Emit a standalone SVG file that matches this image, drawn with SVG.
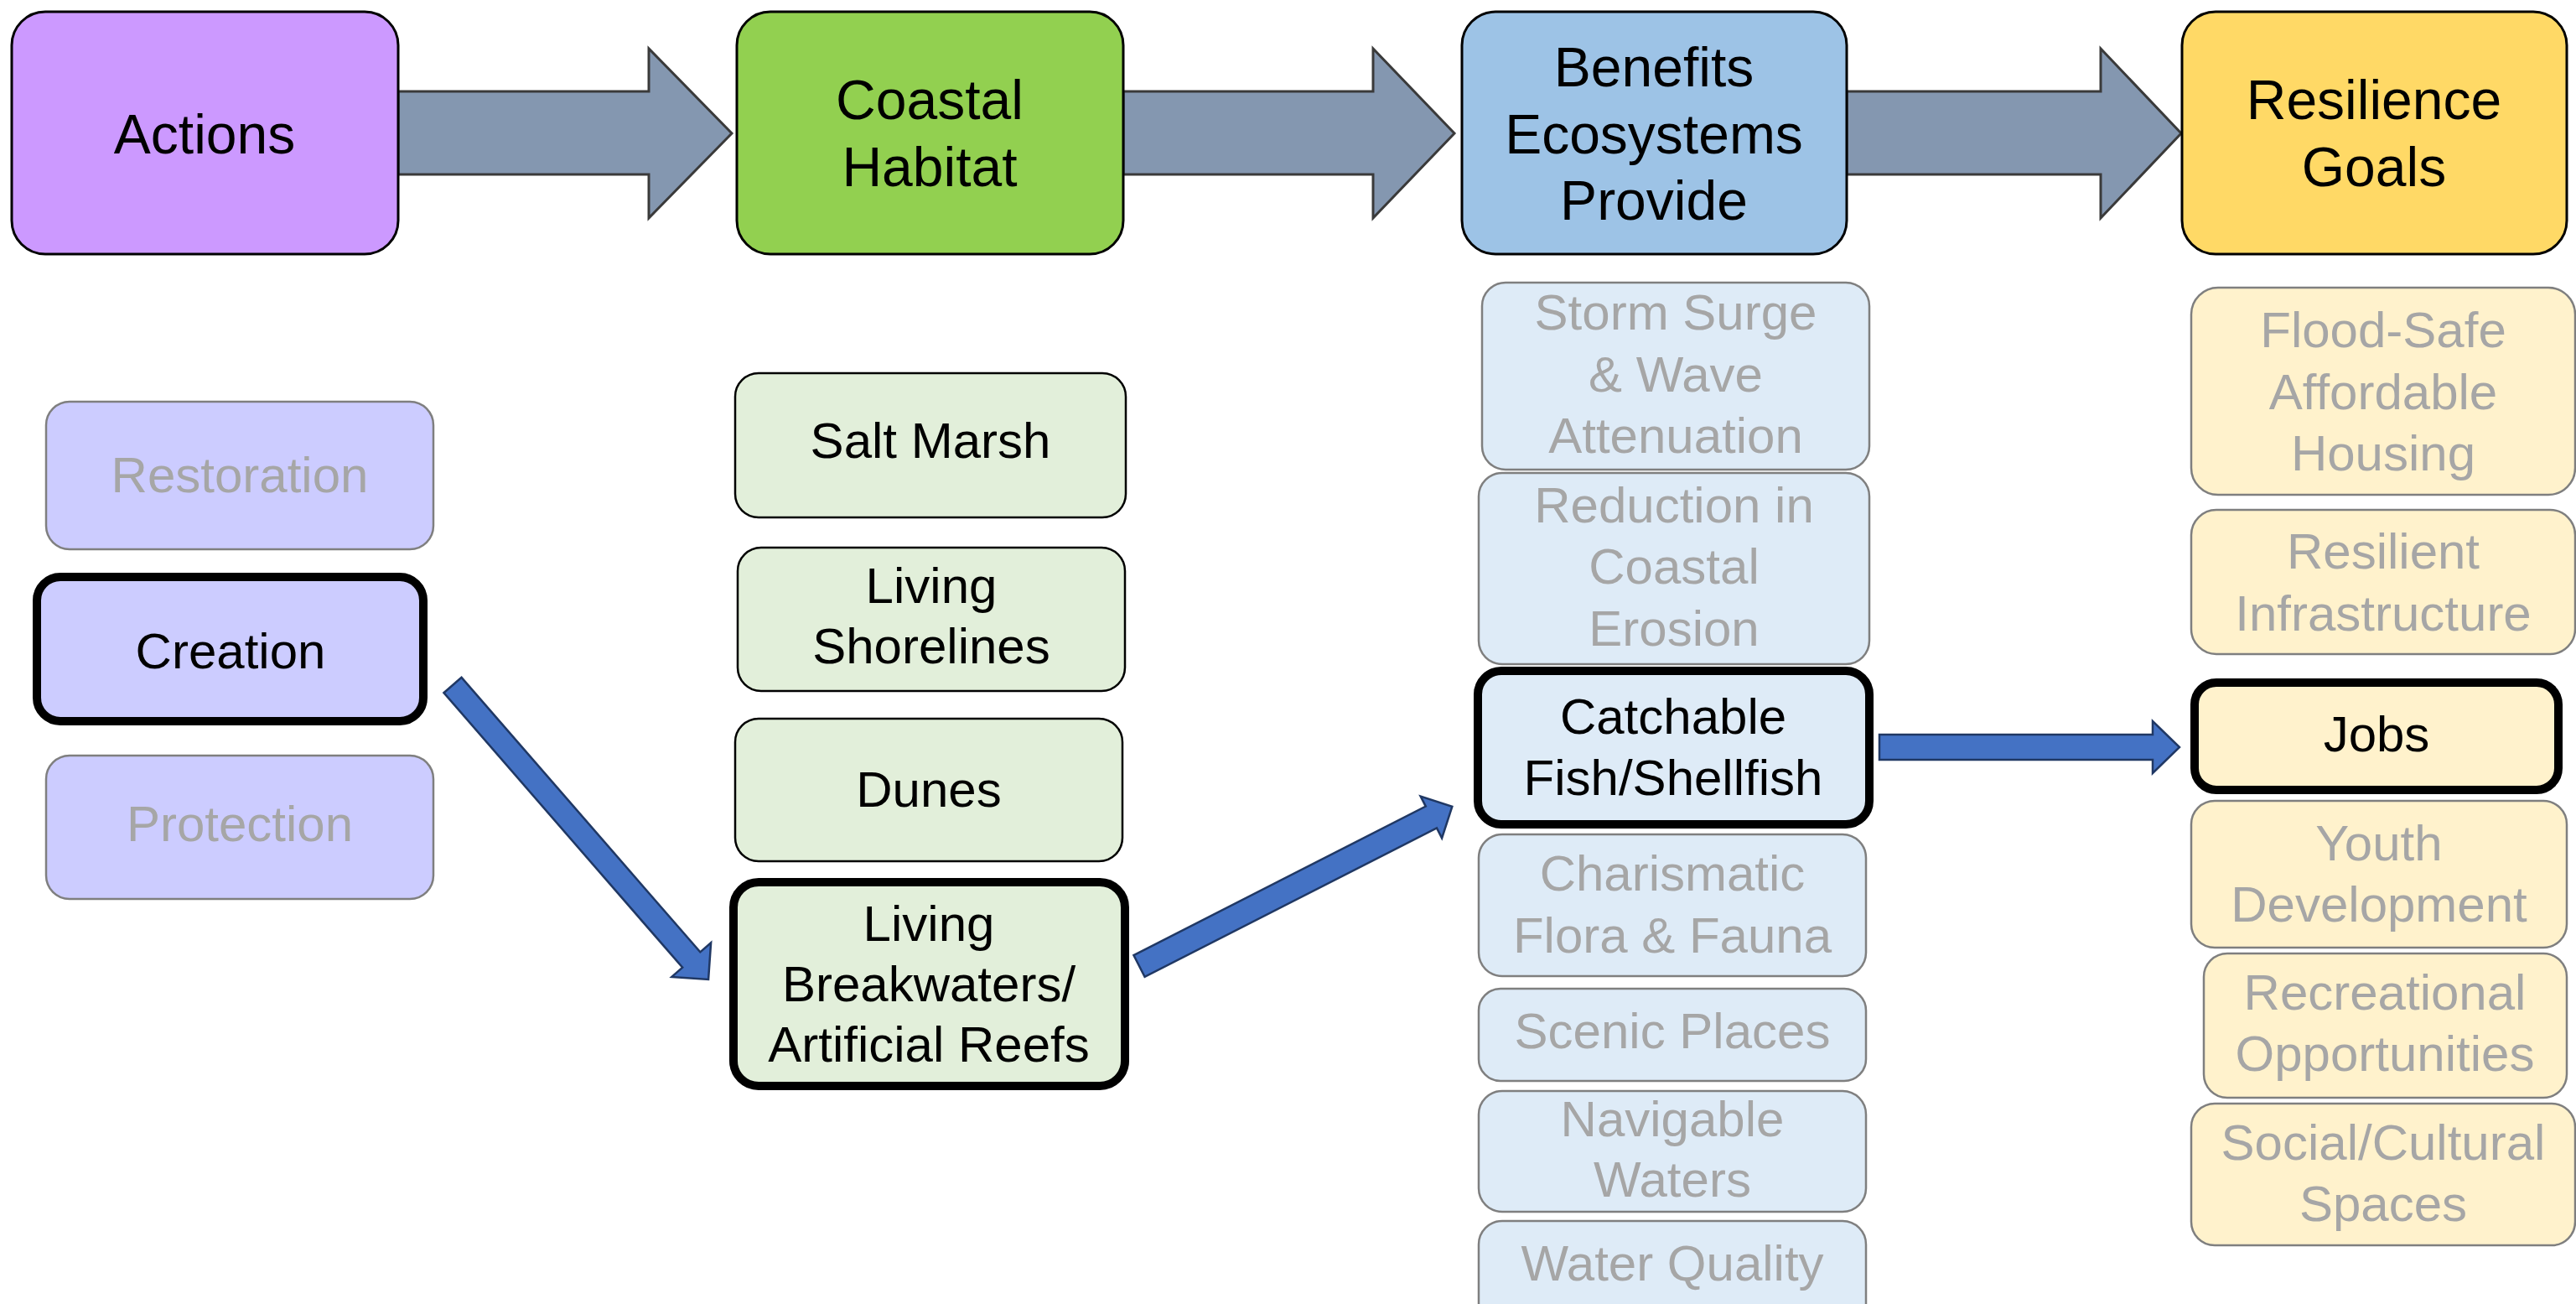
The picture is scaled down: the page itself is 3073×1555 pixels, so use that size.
<svg xmlns="http://www.w3.org/2000/svg" width="3073" height="1555" viewBox="0 0 3073 1555">
<style>
text{font-family:"Liberation Sans",Arial,sans-serif;text-anchor:middle}
.hd{font-size:66px;fill:#000}
.it{font-size:60px}
.on{fill:#000}
.off{fill:#A6A6A6}
.hbox{stroke:#000;stroke-width:3}
.fade{stroke:#7F7F7F;stroke-width:2.5}
.thin{stroke:#000;stroke-width:2.5}
.sel{stroke:#000;stroke-width:10}
.act{fill:#CCCCFF}
.hab{fill:#E2EFDA}
.ben{fill:#DEEBF7}
.res{fill:#FFF2CC}
.big{fill:#8497B0;stroke:#3A3A3A;stroke-width:3;stroke-linejoin:miter}
.blue{fill:#4472C4;stroke:#203864;stroke-width:2.5;stroke-linejoin:miter}
</style>
<rect width="3073" height="1555" fill="#fff"/>
<g id="connectors">
<polygon class="big" points="475,109 774,109 774,58 873,159 774,260 774,208 475,208"/>
<polygon class="big" points="1340,109 1638,109 1638,58 1735,159 1638,260 1638,208 1340,208"/>
<polygon class="big" points="2203,109 2506,109 2506,58 2602,159 2506,260 2506,208 2203,208"/>
<polygon class="blue" transform="translate(540,817) rotate(49)" points="0,-14 434,-14 434,-31 465,0 434,31 434,14 0,14"/>
<polygon class="blue" transform="translate(1359,1152) rotate(-27)" points="0,-14.5 391,-14.5 391,-28 419,0 391,28 391,14.5 0,14.5"/>
<polygon class="blue" transform="translate(2242,891)" points="0,-15 326,-15 326,-31 358,0 326,31 326,15 0,15"/>
</g>
<g id="actions"><rect class="hbox" x="14" y="14" width="461" height="289" rx="40" fill="#CC99FF"/><text class="hd" x="244" y="183">Actions</text></g>
<g id="coastal-habitat"><rect class="hbox" x="879" y="14" width="461" height="289" rx="40" fill="#92D050"/><text class="hd" x="1109" y="142">Coastal</text><text class="hd" x="1109" y="222">Habitat</text></g>
<g id="benefits"><rect class="hbox" x="1744" y="14" width="459" height="289" rx="40" fill="#9DC3E6"/><text class="hd" x="1973" y="103">Benefits</text><text class="hd" x="1973" y="183">Ecosystems</text><text class="hd" x="1973" y="262">Provide</text></g>
<g id="resilience-goals"><rect class="hbox" x="2603" y="14" width="459" height="289" rx="40" fill="#FFD966"/><text class="hd" x="2832" y="142">Resilience</text><text class="hd" x="2832" y="222">Goals</text></g>

<g id="restoration"><rect class="act fade" x="55" y="479" width="462" height="176" rx="28"/><text class="it off" x="286" y="587">Restoration</text></g>
<g id="creation"><rect class="act sel" x="44" y="688" width="461" height="172" rx="28"/><text class="it on" x="275" y="797">Creation</text></g>
<g id="protection"><rect class="act fade" x="55" y="901" width="462" height="171" rx="28"/><text class="it off" x="286" y="1003">Protection</text></g>

<g id="salt-marsh"><rect class="hab thin" x="877" y="445" width="466" height="172" rx="28"/><text class="it on" x="1110" y="546">Salt Marsh</text></g>
<g id="living-shorelines"><rect class="hab thin" x="880" y="653" width="462" height="171" rx="28"/><text class="it on" x="1111" y="719">Living</text><text class="it on" x="1111" y="791">Shorelines</text></g>
<g id="dunes"><rect class="hab thin" x="877" y="857" width="462" height="170" rx="28"/><text class="it on" x="1108" y="962">Dunes</text></g>
<g id="living-breakwaters"><rect class="hab sel" x="875" y="1052" width="467" height="243" rx="30"/><text class="it on" x="1108" y="1122">Living</text><text class="it on" x="1108" y="1194">Breakwaters/</text><text class="it on" x="1108" y="1266">Artificial Reefs</text></g>

<g id="storm-surge"><rect class="ben fade" x="1768" y="337" width="462" height="223" rx="28"/><text class="it off" x="1999" y="393">Storm Surge</text><text class="it off" x="1999" y="467">&amp; Wave</text><text class="it off" x="1999" y="540">Attenuation</text></g>
<g id="coastal-erosion"><rect class="ben fade" x="1764" y="564" width="466" height="228" rx="28"/><text class="it off" x="1997" y="623">Reduction in</text><text class="it off" x="1997" y="696">Coastal</text><text class="it off" x="1997" y="770">Erosion</text></g>
<g id="catchable-fish"><rect class="ben sel" x="1763" y="800" width="467" height="183" rx="28"/><text class="it on" x="1996" y="875">Catchable</text><text class="it on" x="1996" y="948">Fish/Shellfish</text></g>
<g id="charismatic"><rect class="ben fade" x="1764" y="995" width="462" height="169" rx="28"/><text class="it off" x="1995" y="1062">Charismatic</text><text class="it off" x="1995" y="1136">Flora &amp; Fauna</text></g>
<g id="scenic-places"><rect class="ben fade" x="1764" y="1179" width="462" height="110" rx="26"/><text class="it off" x="1995" y="1250">Scenic Places</text></g>
<g id="navigable-waters"><rect class="ben fade" x="1764" y="1301" width="462" height="144" rx="28"/><text class="it off" x="1995" y="1355">Navigable</text><text class="it off" x="1995" y="1427">Waters</text></g>
<g id="water-quality"><rect class="ben fade" x="1764" y="1456" width="462" height="130" rx="28"/><text class="it off" x="1995" y="1527">Water Quality</text></g>

<g id="flood-safe-housing"><rect class="res fade" x="2614" y="343" width="458" height="247" rx="32"/><text class="it off" x="2843" y="414">Flood-Safe</text><text class="it off" x="2843" y="488">Affordable</text><text class="it off" x="2843" y="561">Housing</text></g>
<g id="resilient-infrastructure"><rect class="res fade" x="2614" y="608" width="458" height="172" rx="30"/><text class="it off" x="2843" y="678">Resilient</text><text class="it off" x="2843" y="752">Infrastructure</text></g>
<g id="jobs"><rect class="res sel" x="2618" y="814" width="434" height="128" rx="26"/><text class="it on" x="2835" y="896">Jobs</text></g>
<g id="youth-development"><rect class="res fade" x="2614" y="955" width="448" height="175" rx="28"/><text class="it off" x="2838" y="1026">Youth</text><text class="it off" x="2838" y="1099">Development</text></g>
<g id="recreational"><rect class="res fade" x="2629" y="1137" width="433" height="172" rx="28"/><text class="it off" x="2845" y="1204">Recreational</text><text class="it off" x="2845" y="1277">Opportunities</text></g>
<g id="social-cultural"><rect class="res fade" x="2614" y="1316" width="458" height="169" rx="28"/><text class="it off" x="2843" y="1383">Social/Cultural</text><text class="it off" x="2843" y="1456">Spaces</text></g>
</svg>
